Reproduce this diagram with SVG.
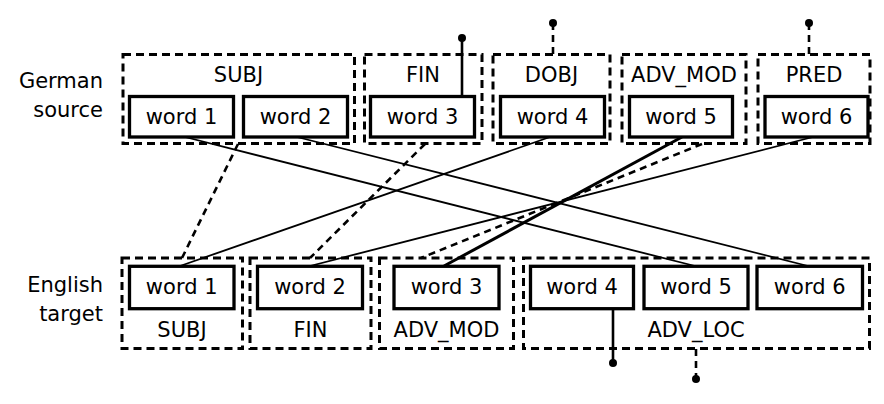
<svg xmlns="http://www.w3.org/2000/svg" width="884" height="404" viewBox="0 0 884 404">
<style>
text{font-family:"DejaVu Sans","Verdana",sans-serif;font-size:21px;fill:#000}
.lbl{text-anchor:end}
.c{text-anchor:middle}
.grp{fill:none;stroke:#000;stroke-width:3;stroke-dasharray:8 5}
.w{fill:#fff;stroke:#000;stroke-width:3.3}
.thin{stroke:#000;stroke-width:1.8;fill:none}
.thick{stroke:#000;stroke-width:3;fill:none}
.dash{stroke:#000;stroke-width:2.6;stroke-dasharray:7 5;fill:none}
.stem{stroke:#000;stroke-width:2.6;fill:none}
.dot{fill:#000}
</style>
<g id="row-labels">
<text class="lbl" x="103" y="88">German</text>
<text class="lbl" x="103" y="117">source</text>
<text class="lbl" x="103" y="292">English</text>
<text class="lbl" x="103" y="321">target</text>
</g>
<g id="connectors">
<line class="thin" x1="185" y1="137" x2="695" y2="266"/>
<line class="thin" x1="297" y1="137" x2="808" y2="266"/>
<line class="thin" x1="180" y1="266" x2="550" y2="137"/>
<line class="thin" x1="310" y1="266" x2="813" y2="137"/>
<line class="thick" x1="444" y1="266" x2="682" y2="137"/>
<line class="dash" x1="238" y1="144" x2="182" y2="258"/>
<line class="dash" x1="425" y1="144" x2="310" y2="258"/>
<line class="dash" x1="702" y1="144" x2="421" y2="258"/>
<line class="stem" x1="462" y1="96" x2="462" y2="38"/>
<circle class="dot" cx="462" cy="38" r="4"/>
<line class="dash" x1="553" y1="54" x2="553" y2="23"/>
<circle class="dot" cx="553" cy="23" r="4"/>
<line class="dash" x1="809" y1="54" x2="809" y2="23"/>
<circle class="dot" cx="809" cy="23" r="4"/>
<line class="stem" x1="613" y1="309" x2="613" y2="363"/>
<circle class="dot" cx="613" cy="363" r="4"/>
<line class="dash" x1="696" y1="349" x2="696" y2="379"/>
<circle class="dot" cx="696" cy="379" r="4"/>
</g>
<g id="de-SUBJ">
<rect class="grp" x="123" y="54.5" width="231.5" height="89"/>
<text class="c" x="238.5" y="82">SUBJ</text>
</g>
<g id="de-FIN">
<rect class="grp" x="364.5" y="54.5" width="117.5" height="89"/>
<text class="c" x="423" y="82">FIN</text>
</g>
<g id="de-DOBJ">
<rect class="grp" x="493" y="54.5" width="117" height="89"/>
<text class="c" x="551.5" y="82">DOBJ</text>
</g>
<g id="de-ADV_MOD">
<rect class="grp" x="622" y="54.5" width="124" height="89"/>
<text class="c" x="684" y="82">ADV_MOD</text>
</g>
<g id="de-PRED">
<rect class="grp" x="758" y="54.5" width="112" height="89"/>
<text class="c" x="814" y="82">PRED</text>
</g>
<g id="de-word1"><rect class="w" x="129.5" y="96.5" width="104" height="40.5"/><text class="c" x="181.5" y="124">word 1</text></g>
<g id="de-word2"><rect class="w" x="243.5" y="96.5" width="104" height="40.5"/><text class="c" x="295.5" y="124">word 2</text></g>
<g id="de-word3"><rect class="w" x="370.5" y="96.5" width="104" height="40.5"/><text class="c" x="422.5" y="124">word 3</text></g>
<g id="de-word4"><rect class="w" x="500.5" y="96.5" width="104" height="40.5"/><text class="c" x="552.5" y="124">word 4</text></g>
<g id="de-word5"><rect class="w" x="629.5" y="96.5" width="103" height="40.5"/><text class="c" x="681" y="124">word 5</text></g>
<g id="de-word6"><rect class="w" x="765" y="96.5" width="103" height="40.5"/><text class="c" x="816.5" y="124">word 6</text></g>
<g id="en-SUBJ">
<rect class="grp" x="122" y="258" width="120.5" height="90.5"/>
<text class="c" x="182" y="337">SUBJ</text>
</g>
<g id="en-FIN">
<rect class="grp" x="250" y="258" width="121" height="90.5"/>
<text class="c" x="310.5" y="337">FIN</text>
</g>
<g id="en-ADV_MOD">
<rect class="grp" x="379.5" y="258" width="134" height="90.5"/>
<text class="c" x="446.5" y="337">ADV_MOD</text>
</g>
<g id="en-ADV_LOC">
<rect class="grp" x="523.5" y="258" width="346" height="90.5"/>
<text class="c" x="696" y="337">ADV_LOC</text>
</g>
<g id="en-word1"><rect class="w" x="129.5" y="266.3" width="104.5" height="42.4"/><text class="c" x="181.7" y="294">word 1</text></g>
<g id="en-word2"><rect class="w" x="257.5" y="266.3" width="105" height="42.4"/><text class="c" x="310" y="294">word 2</text></g>
<g id="en-word3"><rect class="w" x="394" y="266.3" width="105" height="42.4"/><text class="c" x="446.5" y="294">word 3</text></g>
<g id="en-word4"><rect class="w" x="530.5" y="266.3" width="103" height="42.4"/><text class="c" x="582" y="294">word 4</text></g>
<g id="en-word5"><rect class="w" x="644" y="266.3" width="104" height="42.4"/><text class="c" x="696" y="294">word 5</text></g>
<g id="en-word6"><rect class="w" x="757" y="266.3" width="105.5" height="42.4"/><text class="c" x="809.7" y="294">word 6</text></g>
</svg>
